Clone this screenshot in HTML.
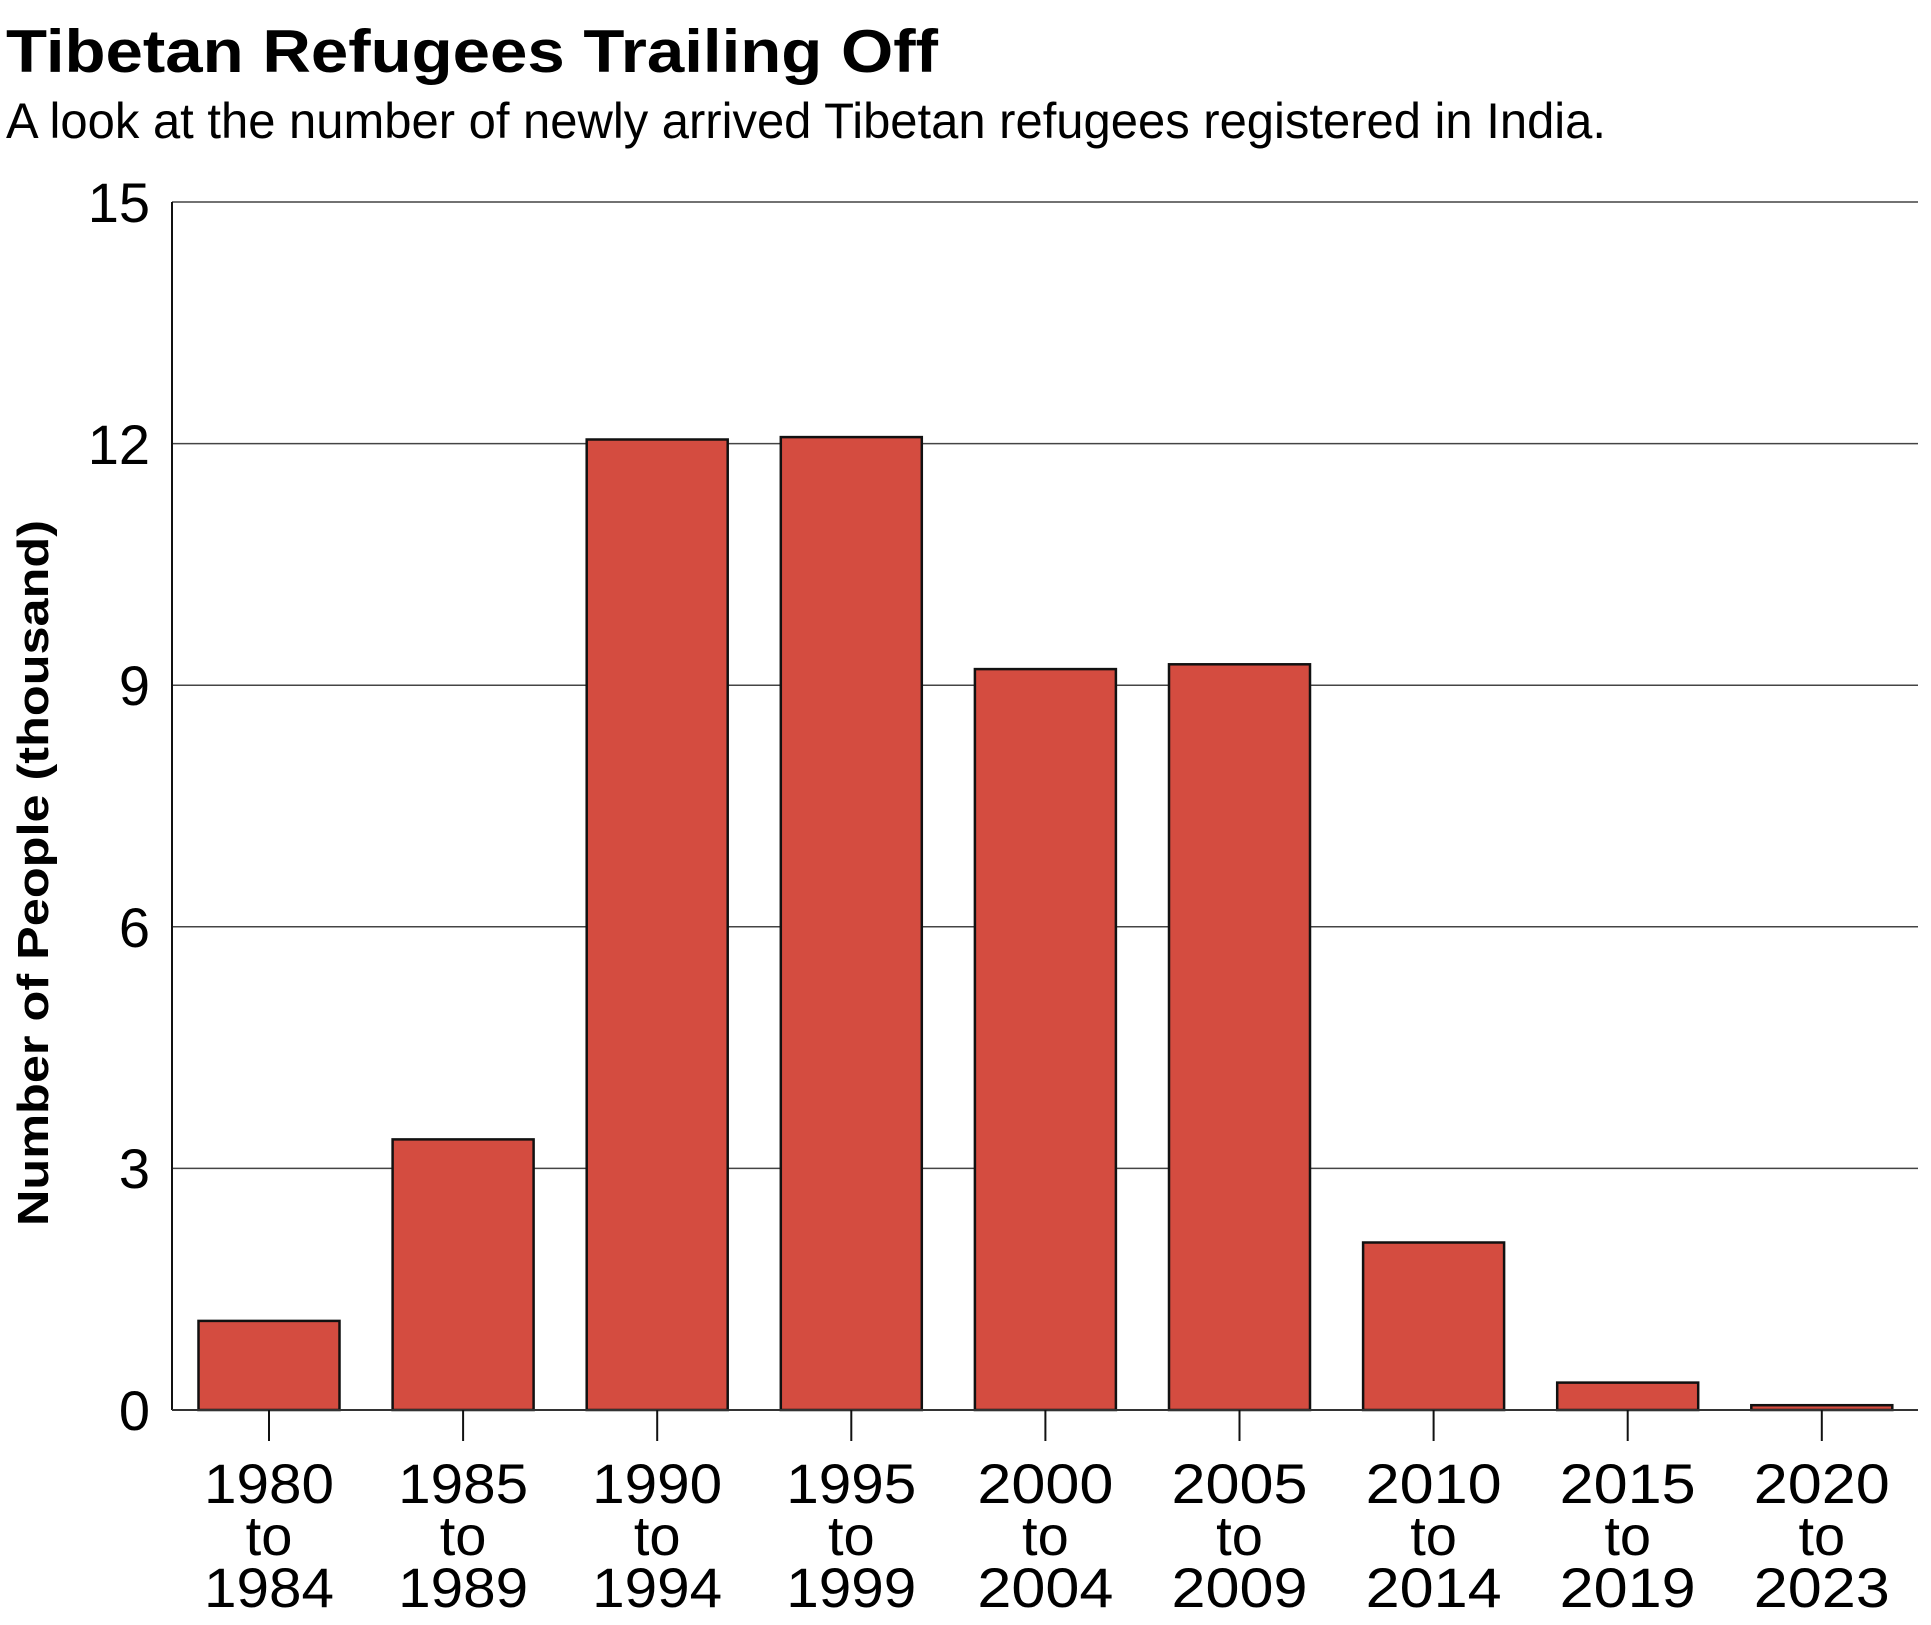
<!DOCTYPE html>
<html><head><meta charset="utf-8"><style>html,body{margin:0;padding:0;background:#fff}svg{display:block}</style></head>
<body>
<svg width="1931" height="1625" viewBox="0 0 1931 1625" xmlns="http://www.w3.org/2000/svg" font-family="Liberation Sans, sans-serif">
<rect width="1931" height="1625" fill="#fff"/>
<text x="6" y="72" font-size="60" font-weight="bold" textLength="932" lengthAdjust="spacingAndGlyphs">Tibetan Refugees Trailing Off</text>
<text x="6" y="138" font-size="50" textLength="1600" lengthAdjust="spacingAndGlyphs">A look at the number of newly arrived Tibetan refugees registered in India.</text>
<g stroke="#444" stroke-width="1.5">
<line x1="172" y1="202" x2="1918" y2="202"/>
<line x1="172" y1="443.6" x2="1918" y2="443.6"/>
<line x1="172" y1="685.2" x2="1918" y2="685.2"/>
<line x1="172" y1="926.8" x2="1918" y2="926.8"/>
<line x1="172" y1="1168.4" x2="1918" y2="1168.4"/>
</g>
<g font-size="56" text-anchor="end">
<text x="150" y="222">15</text>
<text x="150" y="464">12</text>
<text x="150" y="705">9</text>
<text x="150" y="947">6</text>
<text x="150" y="1188">3</text>
<text x="150" y="1430">0</text>
</g>
<text transform="translate(48,873) rotate(-90)" font-size="44" font-weight="bold" text-anchor="middle" textLength="706" lengthAdjust="spacingAndGlyphs">Number of People (thousand)</text>
<g fill="#d44c40" stroke="#111" stroke-width="2.5">
<rect x="198.5" y="1320.9" width="141" height="89.1"/>
<rect x="392.6" y="1139.4" width="141" height="270.6"/>
<rect x="586.7" y="439.5" width="141" height="970.5"/>
<rect x="780.8" y="437.1" width="141" height="972.9"/>
<rect x="974.9" y="669.1" width="141" height="740.9"/>
<rect x="1169" y="664.3" width="141" height="745.7"/>
<rect x="1363.1" y="1242.5" width="141" height="167.5"/>
<rect x="1557.2" y="1382.6" width="141" height="27.4"/>
<rect x="1751.3" y="1405.2" width="141" height="4.8"/>
</g>
<line x1="172" y1="202" x2="172" y2="1410" stroke="#111" stroke-width="2"/>
<line x1="172" y1="1410" x2="1918" y2="1410" stroke="#333" stroke-width="2"/>
<g stroke="#111" stroke-width="2">
<line x1="269" y1="1410" x2="269" y2="1441"/>
<line x1="463.1" y1="1410" x2="463.1" y2="1441"/>
<line x1="657.2" y1="1410" x2="657.2" y2="1441"/>
<line x1="851.3" y1="1410" x2="851.3" y2="1441"/>
<line x1="1045.4" y1="1410" x2="1045.4" y2="1441"/>
<line x1="1239.5" y1="1410" x2="1239.5" y2="1441"/>
<line x1="1433.6" y1="1410" x2="1433.6" y2="1441"/>
<line x1="1627.7" y1="1410" x2="1627.7" y2="1441"/>
<line x1="1821.8" y1="1410" x2="1821.8" y2="1441"/>
</g>
<g font-size="56" text-anchor="middle">
<text x="269" y="1503" textLength="130" lengthAdjust="spacingAndGlyphs">1980</text><text x="269" y="1555">to</text><text x="269" y="1607" textLength="130" lengthAdjust="spacingAndGlyphs">1984</text>
<text x="463.1" y="1503" textLength="130" lengthAdjust="spacingAndGlyphs">1985</text><text x="463.1" y="1555">to</text><text x="463.1" y="1607" textLength="130" lengthAdjust="spacingAndGlyphs">1989</text>
<text x="657.2" y="1503" textLength="130" lengthAdjust="spacingAndGlyphs">1990</text><text x="657.2" y="1555">to</text><text x="657.2" y="1607" textLength="130" lengthAdjust="spacingAndGlyphs">1994</text>
<text x="851.3" y="1503" textLength="130" lengthAdjust="spacingAndGlyphs">1995</text><text x="851.3" y="1555">to</text><text x="851.3" y="1607" textLength="130" lengthAdjust="spacingAndGlyphs">1999</text>
<text x="1045.4" y="1503" textLength="136" lengthAdjust="spacingAndGlyphs">2000</text><text x="1045.4" y="1555">to</text><text x="1045.4" y="1607" textLength="136" lengthAdjust="spacingAndGlyphs">2004</text>
<text x="1239.5" y="1503" textLength="136" lengthAdjust="spacingAndGlyphs">2005</text><text x="1239.5" y="1555">to</text><text x="1239.5" y="1607" textLength="136" lengthAdjust="spacingAndGlyphs">2009</text>
<text x="1433.6" y="1503" textLength="136" lengthAdjust="spacingAndGlyphs">2010</text><text x="1433.6" y="1555">to</text><text x="1433.6" y="1607" textLength="136" lengthAdjust="spacingAndGlyphs">2014</text>
<text x="1627.7" y="1503" textLength="136" lengthAdjust="spacingAndGlyphs">2015</text><text x="1627.7" y="1555">to</text><text x="1627.7" y="1607" textLength="136" lengthAdjust="spacingAndGlyphs">2019</text>
<text x="1821.8" y="1503" textLength="136" lengthAdjust="spacingAndGlyphs">2020</text><text x="1821.8" y="1555">to</text><text x="1821.8" y="1607" textLength="136" lengthAdjust="spacingAndGlyphs">2023</text>
</g>
</svg>
</body></html>
